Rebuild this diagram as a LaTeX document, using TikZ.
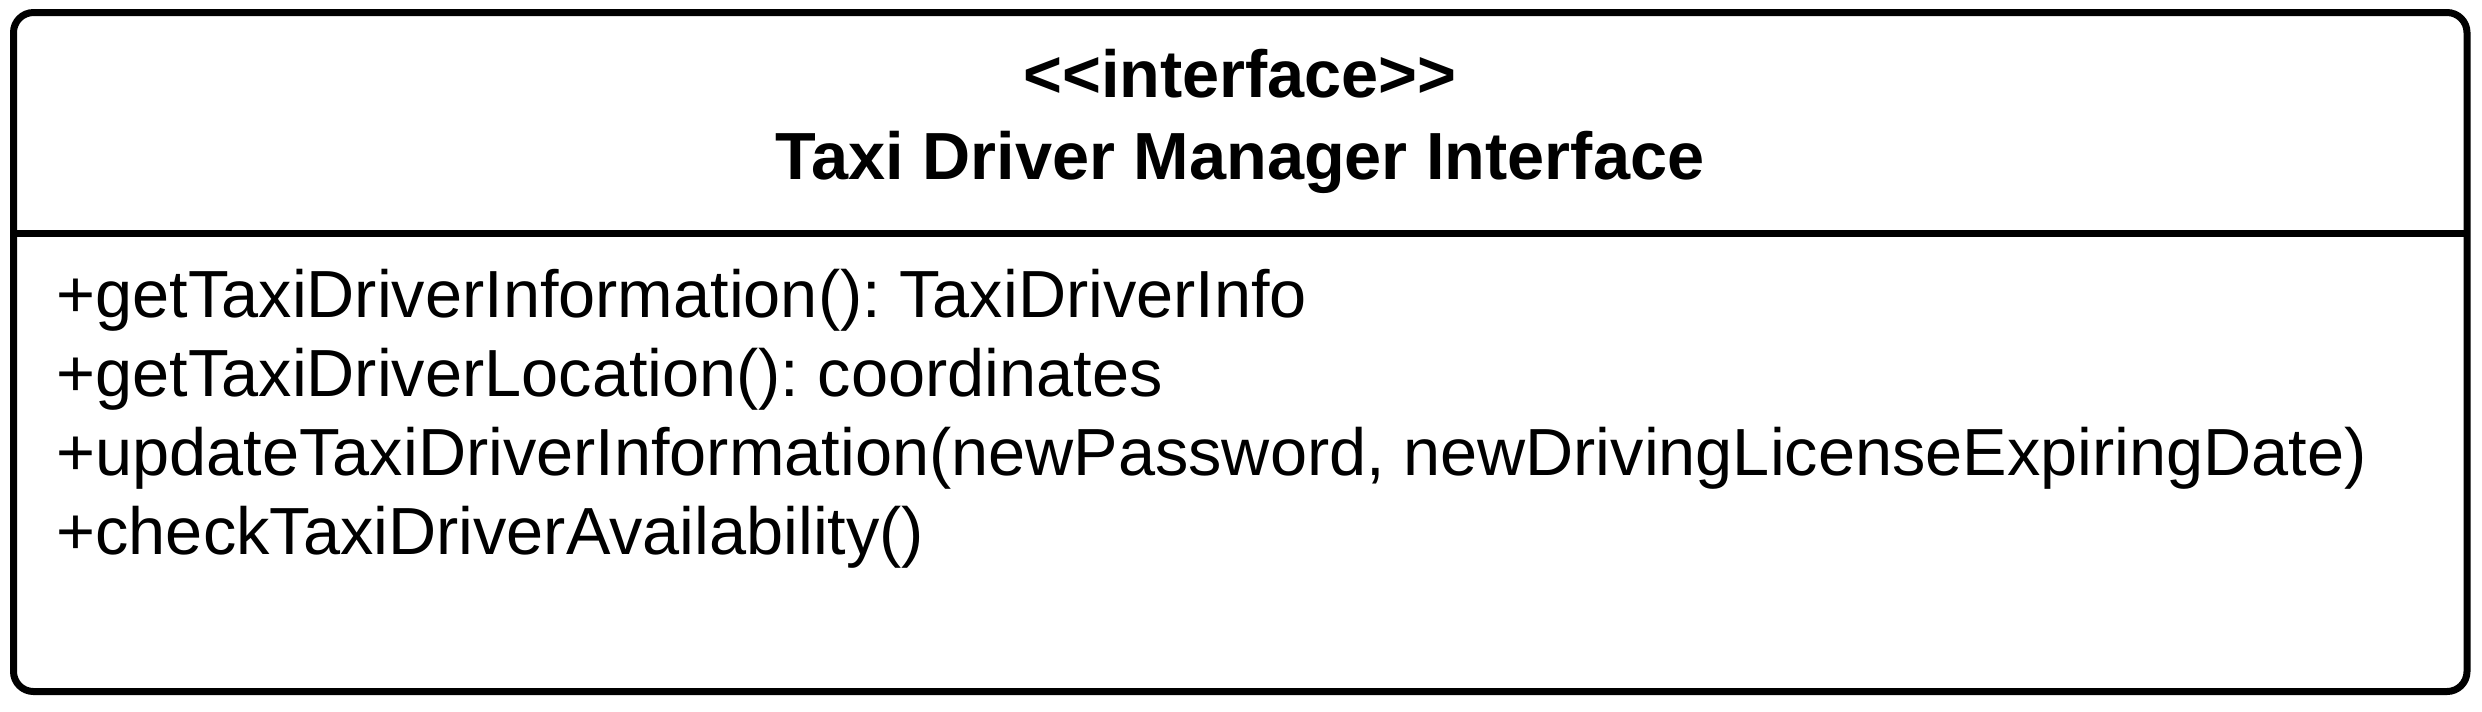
\documentclass[tikz,border=0pt]{standalone}
\usepackage{fontspec}
\setmainfont{Liberation Sans}
\frenchspacing
\begin{document}
\begin{tikzpicture}[x=0.3pt,y=-0.3pt,
  boxline/.style={line width=2.1pt,draw=black},
  member/.style={anchor=base west,inner sep=0pt,font=\fontsize{20}{24}\selectfont},
  head/.style={anchor=base,inner sep=0pt,font=\fontsize{20}{24}\selectfont\bfseries}]
\useasboundingbox (0,0) rectangle (2482,711);
\draw[boxline,rounded corners=6pt] (13.5,12.5) rectangle (2467,691.5);
\coordinate (divL) at (13.5,233.5);
\coordinate (divR) at (2467,233.5);
\draw[boxline] (divL) -- (divR);
\node[head] (stereo) at (1240,97) {{<}{<}interface{>}{>}};
\node[head] (title) at (1240,179) {Taxi Driver Manager Interface};
\node[member] (m1) at (56,317) {+getTaxiDriverInformation(): TaxiDriverInfo};
\node[member] (m2) at (56,396) {+getTaxiDriverLocation(): coordinates};
\node[member] (m3) at (56,475) {+updateTaxiDriverInformation(newPassword, newDrivingLicenseExpiringDate)};
\node[member] (m4) at (56,554) {+checkTaxiDriverAvailability()};
\end{tikzpicture}
\end{document}
